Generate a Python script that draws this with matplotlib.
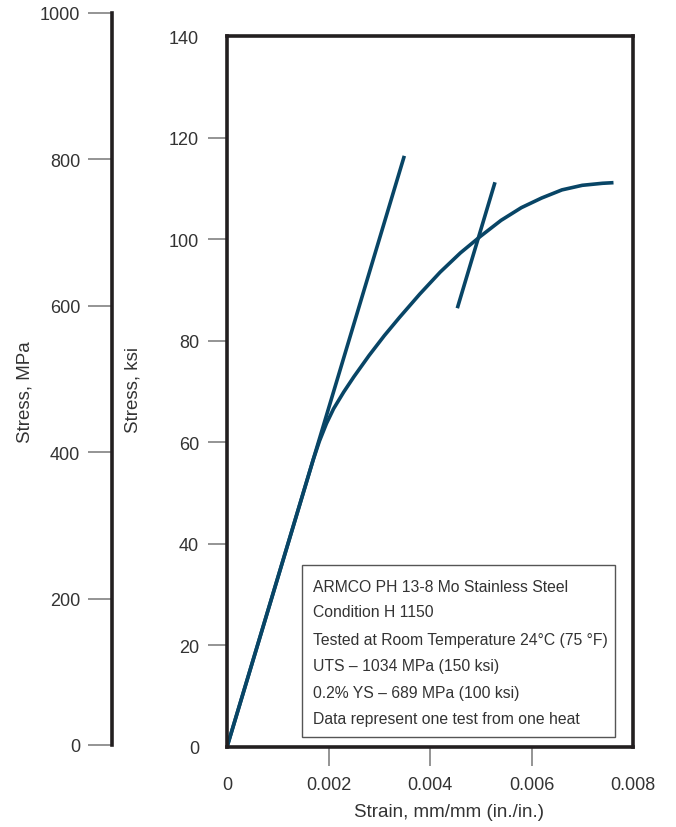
import matplotlib.pyplot as plt
from matplotlib.patches import Rectangle

# --- DATA ---
curve_strain = [0, 0.0017, 0.00182, 0.00196, 0.0021, 0.0023, 0.0025, 0.0028,
                0.0031, 0.0034, 0.0038, 0.0042, 0.0046, 0.0050, 0.0054,
                0.0058, 0.0062, 0.0066, 0.0070, 0.0074, 0.00758]
curve_stress = [0, 56.6, 60.2, 63.7, 66.6, 69.9, 72.9, 77.1,
                81.0, 84.6, 89.2, 93.5, 97.3, 100.6, 103.7,
                106.2, 108.1, 109.7, 110.6, 111.0, 111.1]

elastic_strain = [0, 0.003494]
elastic_stress = [0, 116.4]

offset_strain = [0.004538, 0.005281]
offset_stress = [86.4, 111.2]

x_ticks = [0, 0.002, 0.004, 0.006, 0.008]
x_labels = ["0", "0.002", "0.004", "0.006", "0.008"]
ksi_ticks = list(range(0, 141, 20))
mpa_ticks = list(range(0, 1001, 200))

note_lines = [
    "ARMCO PH 13-8 Mo Stainless Steel",
    "Condition H 1150",
    "Tested at Room Temperature 24°C (75 °F)",
    "UTS \u2013 1034 MPa (150 ksi)",
    "0.2% YS \u2013 689 MPa (100 ksi)",
    "Data represent one test from one heat",
]

# --- STYLE ---
plt.rcParams['font.family'] = ['Liberation Sans', 'DejaVu Sans']
LINE = "#084566"
TXT = "#333333"
W, H = 676, 828

fig = plt.figure(figsize=(W / 100, H / 100), dpi=100)

# main (ksi) axes
ax = fig.add_axes([227 / W, (H - 748) / H, 406 / W, 711 / H])
ax.plot(curve_strain, curve_stress, color=LINE, lw=2.6, solid_joinstyle="round")
ax.plot(elastic_strain, elastic_stress, color=LINE, lw=2.6, solid_capstyle="butt")
ax.plot(offset_strain, offset_stress, color=LINE, lw=2.6, solid_capstyle="butt")
ax.set_xlim(0, 0.008)
ax.set_ylim(0, 140)
for s in ax.spines.values():
    s.set_linewidth(2.6)
    s.set_color("#231f20")
ax.set_xticks(x_ticks)
ax.set_xticklabels(x_labels)
ax.set_yticks(ksi_ticks)
ax.tick_params(axis="both", direction="out", length=14, width=1.1, color="#777777",
               labelsize=13, labelcolor=TXT, pad=6)
ax.tick_params(axis="x", pad=7)
for t in [ax.xaxis.get_major_ticks()[0], ax.xaxis.get_major_ticks()[-1],
          ax.yaxis.get_major_ticks()[0], ax.yaxis.get_major_ticks()[-1]]:
    t.tick1line.set_visible(False)

fig.text(449 / W, 1 - 813 / H, "Strain, mm/mm (in./in.)", fontsize=13.5, color=TXT,
         ha="center", va="center")
fig.text(133 / W, 1 - 390 / H, "Stress, ksi", rotation=90, fontsize=13.5, color=TXT,
         ha="center", va="center")
fig.text(25 / W, 1 - 392 / H, "Stress, MPa", rotation=90, fontsize=13.5, color=TXT,
         ha="center", va="center")

# note box
ax.add_patch(Rectangle((0.1847, 0.0141), 0.771, 0.242, transform=ax.transAxes,
                       fill=False, edgecolor="#555555", lw=1.0))
note_y = [587, 613, 641, 667, 694, 720]
for line, yy in zip(note_lines, note_y):
    ax.text(0.2118, (748 - yy) / 711, line, transform=ax.transAxes,
            fontsize=11.3, color=TXT, va="center", ha="left")

# MPa axis
ax2 = fig.add_axes([112 / W, (H - 746) / H, 0.0001, 732 / H])
ax2.patch.set_visible(False)
for k in ["top", "right", "bottom"]:
    ax2.spines[k].set_visible(False)
ax2.spines["left"].set_linewidth(2.6)
ax2.spines["left"].set_color("#231f20")
ax2.set_ylim(0, 1000)
ax2.set_xticks([])
ax2.set_yticks(mpa_ticks)
ax2.tick_params(axis="y", direction="out", length=17, width=1.1, color="#777777",
                labelsize=13, labelcolor=TXT, pad=6)

fig.savefig("out.png", dpi=100)
